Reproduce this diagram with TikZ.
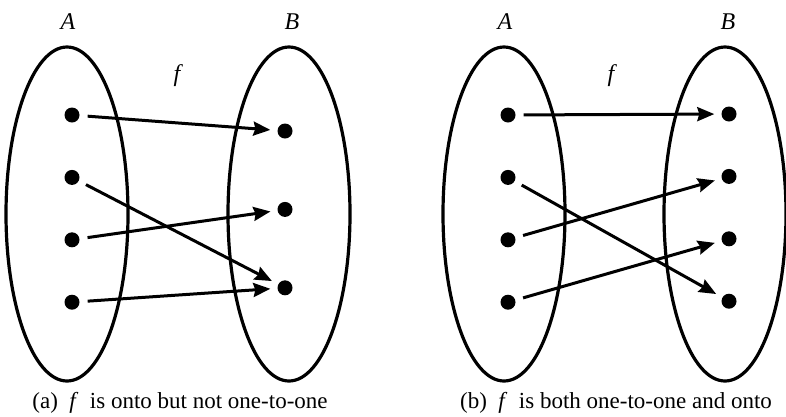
\documentclass[tikz,border=0pt]{standalone}
\usepackage{fontspec}
\setmainfont{Liberation Serif}[ItalicFont={Liberation Serif Italic}]
\usepackage{tikz}
\usetikzlibrary{shapes.geometric, arrows.meta, positioning}

\begin{document}
\begin{tikzpicture}[x=1pt, y=-1pt,
    set/.style={ellipse, draw, line width=3.2pt, minimum width=122pt, minimum height=334pt, inner sep=0pt},
    elem/.style={circle, fill=black, minimum size=15pt, inner sep=0pt},
    line/.style={draw, line width=3pt, -{Stealth[length=17pt, width=14pt, inset=2pt]}, shorten <=8pt, shorten >=7pt},
    lbl/.style={font=\rmfamily\fontsize{24}{28}\selectfont\itshape},
    caption/.style={font=\rmfamily\fontsize{23}{27}\selectfont}
]
\useasboundingbox (0,0) rectangle (786,416);

% (a) onto but not one-to-one
\node [set] (setA1) at (67,214) {};
\node [set] (setB1) at (289,214) {};
\node [lbl] (nameA1) at (68,22) {A};
\node [lbl] (nameB1) at (292,22) {B};
\node [lbl] (map1) at (177,76) {f};

\node [elem] (a1) at (72,115) {};
\node [elem, below=47pt of a1] (a2) {};
\node [elem, below=47pt of a2] (a3) {};
\node [elem, below=47pt of a3] (a4) {};

\node [elem] (b1) at (285,131) {};
\node [elem, below=63pt of b1] (b2) {};
\node [elem, below=63pt of b2] (b3) {};

\draw [line] (a1) -- (b1);
\draw [line] (a2) -- (b3);
\draw [line] (a3) -- (b2);
\draw [line] (a4) -- (b3);

\node [caption] (capA) at (180,403) {(a)~ \textit{f}~ is onto but not one-to-one};

% (b) one-to-one and onto
\node [set] (setA2) at (504,214) {};
\node [set] (setB2) at (725,214) {};
\node [lbl] (nameA2) at (505,22) {A};
\node [lbl] (nameB2) at (728,22) {B};
\node [lbl] (map2) at (611,76) {f};

\node [elem] (c1) at (508,115) {};
\node [elem, below=47pt of c1] (c2) {};
\node [elem, below=47pt of c2] (c3) {};
\node [elem, below=47pt of c3] (c4) {};

\node [elem] (d1) at (729,114) {};
\node [elem, below=47pt of d1] (d2) {};
\node [elem, below=47pt of d2] (d3) {};
\node [elem, below=47pt of d3] (d4) {};

\draw [line] (c1) -- (d1);
\draw [line] (c2) -- (d4);
\draw [line] (c3) -- (d2);
\draw [line] (c4) -- (d3);

\node [caption] (capB) at (616,403) {(b)~ \textit{f}~ is both one-to-one and onto};

\end{tikzpicture}
\end{document}
